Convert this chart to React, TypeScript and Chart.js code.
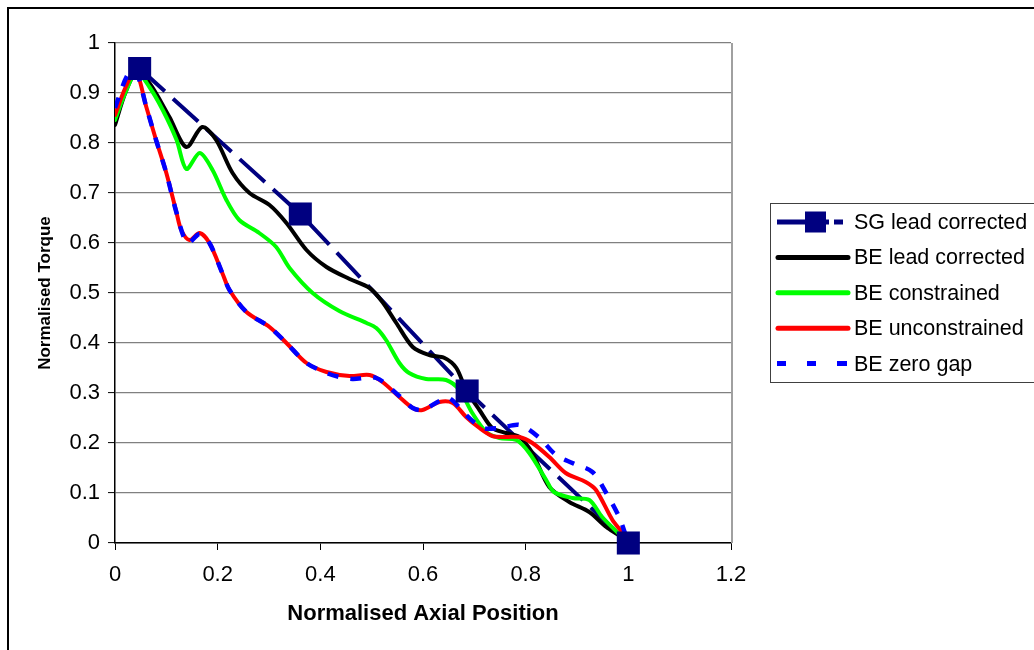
import { useEffect, useRef } from 'react';
import { Chart, registerables } from 'chart.js';

Chart.register(...registerables);

// ---------- data ----------
const sgX = [0.048, 0.361, 0.686, 1.0];
const sgY = [0.949, 0.658, 0.304, 0.0];

const beLeadX = [0, 0.02, 0.042, 0.067, 0.106, 0.139, 0.17, 0.197, 0.229, 0.262, 0.301, 0.334, 0.373, 0.412, 0.457, 0.496, 0.521, 0.548, 0.58, 0.612, 0.642, 0.665, 0.684, 0.71, 0.735, 0.762, 0.788, 0.813, 0.846, 0.885, 0.924, 0.957, 0.982, 1.0];
const beLeadY = [0.836, 0.9, 0.942, 0.92, 0.852, 0.792, 0.832, 0.806, 0.74, 0.7, 0.676, 0.64, 0.586, 0.552, 0.528, 0.51, 0.482, 0.44, 0.392, 0.376, 0.37, 0.35, 0.306, 0.266, 0.23, 0.22, 0.212, 0.18, 0.112, 0.082, 0.062, 0.032, 0.015, 0.0];

const beConX = [0, 0.02, 0.042, 0.067, 0.093, 0.12, 0.139, 0.165, 0.19, 0.217, 0.242, 0.281, 0.314, 0.34, 0.385, 0.437, 0.49, 0.509, 0.528, 0.554, 0.573, 0.606, 0.645, 0.671, 0.696, 0.723, 0.749, 0.782, 0.807, 0.84, 0.855, 0.891, 0.924, 0.949, 0.982, 1.0];
const beConY = [0.846, 0.9, 0.942, 0.912, 0.866, 0.806, 0.748, 0.78, 0.746, 0.686, 0.646, 0.62, 0.592, 0.55, 0.5, 0.464, 0.44, 0.43, 0.406, 0.36, 0.34, 0.328, 0.326, 0.306, 0.26, 0.222, 0.21, 0.206, 0.18, 0.126, 0.102, 0.09, 0.086, 0.052, 0.018, 0.0];

const beUncX = [0, 0.02, 0.04, 0.061, 0.08, 0.1, 0.12, 0.129, 0.145, 0.165, 0.184, 0.209, 0.223, 0.256, 0.301, 0.334, 0.373, 0.412, 0.457, 0.496, 0.521, 0.554, 0.58, 0.599, 0.632, 0.658, 0.684, 0.71, 0.735, 0.762, 0.788, 0.813, 0.846, 0.878, 0.917, 0.937, 0.969, 0.989, 1.0];
const beUncY = [0.856, 0.91, 0.945, 0.872, 0.806, 0.74, 0.66, 0.626, 0.606, 0.62, 0.6, 0.54, 0.506, 0.462, 0.432, 0.4, 0.36, 0.342, 0.334, 0.336, 0.322, 0.292, 0.27, 0.266, 0.282, 0.28, 0.252, 0.23, 0.214, 0.212, 0.212, 0.2, 0.172, 0.14, 0.122, 0.106, 0.046, 0.02, 0.0];

const beZeroX = [0, 0.024, 0.04, 0.061, 0.08, 0.1, 0.12, 0.141, 0.165, 0.184, 0.209, 0.223, 0.256, 0.301, 0.334, 0.373, 0.412, 0.437, 0.463, 0.509, 0.554, 0.58, 0.599, 0.632, 0.651, 0.684, 0.716, 0.749, 0.788, 0.826, 0.859, 0.891, 0.93, 0.957, 0.982, 1.0];
const beZeroY = [0.87, 0.935, 0.945, 0.872, 0.806, 0.74, 0.66, 0.6, 0.618, 0.6, 0.54, 0.506, 0.462, 0.432, 0.4, 0.36, 0.34, 0.332, 0.328, 0.33, 0.294, 0.27, 0.266, 0.284, 0.29, 0.256, 0.23, 0.23, 0.236, 0.211, 0.176, 0.16, 0.142, 0.1, 0.052, 0.0];

const xTickLabels = ['0', '0.2', '0.4', '0.6', '0.8', '1', '1.2'];
const yTickLabels = ['0', '0.1', '0.2', '0.3', '0.4', '0.5', '0.6', '0.7', '0.8', '0.9', '1'];

const legendNames = ['SG lead corrected', 'BE lead corrected', 'BE constrained', 'BE unconstrained', 'BE zero gap'];
const seriesColors = ['#000080', '#000000', '#00FF00', '#FF0000', '#0000FF'];

const FONT = '"Liberation Sans", Arial, Helvetica, sans-serif';

const pts = (xs: number[], ys: number[]) => xs.map((x, i) => ({ x, y: ys[i] }));

const framePlugin = {
  id: 'frameAndLegend',
  beforeDatasetsDraw(chart: any) {
    const { ctx, chartArea } = chart;
    ctx.save();
    ctx.strokeStyle = '#a0a0a0';
    ctx.lineWidth = 2;
    ctx.beginPath();
    ctx.moveTo(chartArea.right + 1, chartArea.top);
    ctx.lineTo(chartArea.right + 1, chartArea.bottom);
    ctx.stroke();
    ctx.restore();
  },
  afterDraw(chart: any) {
    const ctx = chart.ctx as CanvasRenderingContext2D;
    ctx.save();
    // outer frame
    ctx.strokeStyle = '#000';
    ctx.lineWidth = 2;
    ctx.strokeRect(8, 8, 1200, 900);
    // legend box
    ctx.lineWidth = 1;
    ctx.strokeStyle = '#404040';
    ctx.strokeRect(770.5, 203.5, 400, 179);
    ctx.font = `21.5px ${FONT}`;
    ctx.textBaseline = 'middle';
    ctx.textAlign = 'left';
    legendNames.forEach((name, i) => {
      const y = 222 + i * 35.4;
      const c = seriesColors[i];
      ctx.strokeStyle = c;
      ctx.fillStyle = c;
      ctx.lineWidth = 5;
      if (i === 0) {
        ctx.lineCap = 'butt';
        ctx.beginPath();
        ctx.moveTo(777, y);
        ctx.lineTo(829, y);
        ctx.moveTo(834, y);
        ctx.lineTo(843, y);
        ctx.stroke();
        ctx.fillRect(805, y - 10.5, 21, 21);
      } else if (i === 4) {
        ctx.lineCap = 'butt';
        ctx.beginPath();
        [[777, 786], [807, 816], [837, 847]].forEach(([a, b]) => {
          ctx.moveTo(a, y);
          ctx.lineTo(b, y);
        });
        ctx.stroke();
      } else {
        ctx.lineCap = 'round';
        ctx.beginPath();
        ctx.moveTo(778, y);
        ctx.lineTo(848, y);
        ctx.stroke();
      }
      ctx.fillStyle = '#000';
      ctx.fillText(name, 854, y + 1);
    });
    ctx.restore();
  },
};

export default function App() {
  const ref = useRef<HTMLCanvasElement>(null);

  useEffect(() => {
    const canvas = ref.current;
    if (!canvas) return;
    const lineCommon = {
      pointRadius: 0,
      pointHoverRadius: 0,
      borderCapStyle: 'round' as const,
      borderJoinStyle: 'round' as const,
      tension: 0.3,
      fill: false,
    };
    const chart = new Chart(canvas, {
      type: 'line',
      data: {
        datasets: [
          {
            label: legendNames[0] + ' markers',
            data: pts(sgX, sgY),
            showLine: false,
            pointStyle: 'rect',
            pointRadius: 16.3,
            pointBorderWidth: 0,
            pointBackgroundColor: seriesColors[0],
            borderColor: seriesColors[0],
            backgroundColor: seriesColors[0],
            clip: false as any,
            order: 0,
          },
          {
            label: legendNames[4],
            data: pts(beZeroX, beZeroY),
            borderColor: seriesColors[4],
            borderWidth: 4.5,
            borderDash: [11, 12],
            ...lineCommon,
            borderCapStyle: 'butt',
            order: 1,
          },
          {
            label: legendNames[3],
            data: pts(beUncX, beUncY),
            borderColor: seriesColors[3],
            borderWidth: 4,
            ...lineCommon,
            order: 2,
          },
          {
            label: legendNames[2],
            data: pts(beConX, beConY),
            borderColor: seriesColors[2],
            borderWidth: 4,
            ...lineCommon,
            order: 3,
          },
          {
            label: legendNames[1],
            data: pts(beLeadX, beLeadY),
            borderColor: seriesColors[1],
            borderWidth: 4,
            ...lineCommon,
            order: 4,
          },
          {
            label: legendNames[0],
            data: pts(sgX, sgY),
            borderColor: seriesColors[0],
            borderWidth: 4,
            borderDash: [34, 11],
            pointRadius: 0,
            tension: 0,
            borderCapStyle: 'butt',
            fill: false,
            order: 5,
          },
        ] as any,
      },
      options: {
        animation: false,
        responsive: false,
        maintainAspectRatio: false,
        events: [],
        layout: { padding: { left: 0, top: 43, right: 303, bottom: 0 } },
        plugins: {
          legend: { display: false },
          tooltip: { enabled: false },
          title: { display: false },
        },
        scales: {
          x: {
            type: 'linear',
            min: 0,
            max: 1.2,
            ticks: {
              stepSize: 0.2,
              padding: 12,
              color: '#000',
              maxRotation: 0,
              autoSkip: false,
              font: { family: FONT, size: 22 },
              callback: (_v: any, i: number) => xTickLabels[i],
            },
            grid: {
              drawOnChartArea: false,
              drawTicks: true,
              tickLength: 7,
              tickColor: '#000',
              tickWidth: 1,
            },
            border: { display: true, color: '#000', width: 1.5 },
            title: {
              display: true,
              text: 'Normalised Axial Position',
              color: '#000',
              font: { family: FONT, size: 22, weight: 'bold' },
              padding: { top: 0, bottom: 23 },
            },
            afterFit: (s: any) => {
              s.height = 107;
            },
          },
          y: {
            type: 'linear',
            min: 0,
            max: 1,
            ticks: {
              stepSize: 0.1,
              padding: 8,
              color: '#000',
              font: { family: FONT, size: 22 },
              callback: (_v: any, i: number) => yTickLabels[i],
            },
            grid: {
              color: '#808080',
              lineWidth: 1.2,
              drawTicks: true,
              tickLength: 7,
              tickColor: '#000',
              tickWidth: 1,
            },
            border: { display: true, color: '#000', width: 1.5 },
            title: {
              display: true,
              text: 'Normalised Torque',
              color: '#000',
              font: { family: FONT, size: 17, weight: 'bold' },
              padding: { top: 35, bottom: 0 },
            },
            afterFit: (s: any) => {
              s.width = 115;
            },
          },
        },
      } as any,
      plugins: [framePlugin],
    });
    return () => chart.destroy();
  }, []);

  return (
    <div style={{ position: 'fixed', left: 0, top: 0, width: 1034, height: 650, background: '#fff', overflow: 'hidden' }}>
      <canvas ref={ref} width={1034} height={650} style={{ display: 'block', width: 1034, height: 650 }} />
    </div>
  );
}
